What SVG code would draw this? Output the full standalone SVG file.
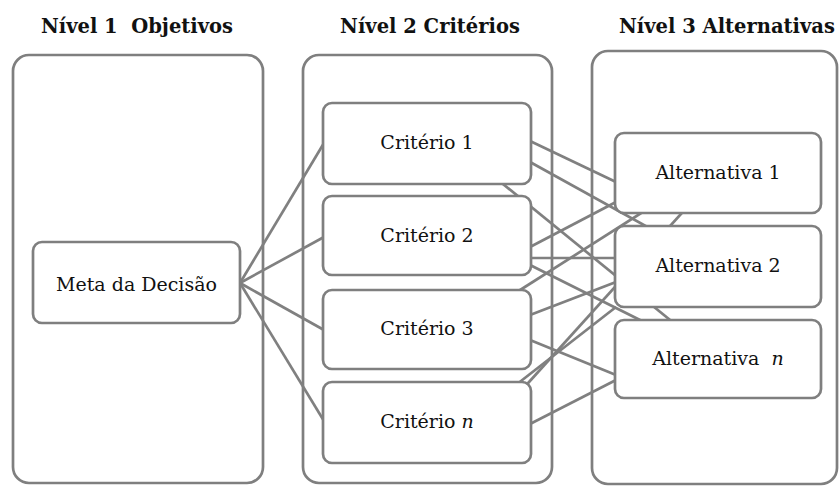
<svg xmlns="http://www.w3.org/2000/svg" width="840" height="486" viewBox="0 0 840 486">
  <style>
    .panel { fill: #ffffff; stroke: #7f7f7f; stroke-width: 2.7; }
    .box { fill: #ffffff; stroke: #7f7f7f; stroke-width: 2.7; }
    .link { fill: none; stroke: #808080; stroke-width: 2.7; stroke-linecap: butt; }
    .title { font-family: "DejaVu Serif", "Liberation Serif", serif; font-weight: bold; font-size: 19.5px; fill: #111111; text-anchor: middle; white-space: pre; }
    .label { font-family: "DejaVu Serif", "Liberation Serif", serif; font-size: 19px; fill: #111111; text-anchor: middle; white-space: pre; }
  </style>

  <rect width="840" height="486" fill="#ffffff"/>

  <!-- level headings -->
  <g id="headings">
    <text class="title" x="137" y="33">Nível 1  Objetivos</text>
    <text class="title" x="430" y="33">Nível 2 Critérios</text>
    <text class="title" x="727" y="33">Nível 3 Alternativas</text>
  </g>

  <!-- level columns -->
  <g id="columns">
    <rect id="level1" class="panel" x="13" y="55" width="250" height="428" rx="16"/>
    <rect id="level2" class="panel" x="303" y="55" width="249" height="428" rx="16"/>
    <rect id="level3" class="panel" x="592" y="51" width="245" height="433" rx="16"/>
  </g>

  <!-- connectors -->
  <g id="connectors">
    <line class="link" x1="240" y1="283" x2="324" y2="143"/>
    <line class="link" x1="240" y1="283" x2="324" y2="237"/>
    <line class="link" x1="240" y1="283" x2="324" y2="330"/>
    <line class="link" x1="240" y1="283" x2="324" y2="421"/>

    <line class="link" x1="530" y1="141" x2="616" y2="182"/>
    <line class="link" x1="530" y1="162" x2="718" y2="266"/>
    <line class="link" x1="460" y1="149" x2="718" y2="359"/>

    <line class="link" x1="530" y1="247" x2="616" y2="202"/>
    <line class="link" x1="530" y1="258" x2="616" y2="258"/>
    <line class="link" x1="530" y1="265" x2="718" y2="359"/>

    <line class="link" x1="517" y1="292" x2="690" y2="182"/>
    <line class="link" x1="530" y1="315" x2="616" y2="282"/>
    <line class="link" x1="530" y1="340" x2="616" y2="375"/>

    <line class="link" x1="512" y1="388" x2="616" y2="307"/>
    <line class="link" x1="520" y1="392" x2="718" y2="173"/>
    <line class="link" x1="530" y1="424" x2="616" y2="380"/>
  </g>

  <!-- level 1 -->
  <g id="goal">
    <rect class="box" x="33" y="242" width="207" height="81" rx="9"/>
    <text class="label" x="136.5" y="291">Meta da Decisão</text>
  </g>

  <!-- level 2 -->
  <g id="criterion-1">
    <rect class="box" x="323" y="103" width="208" height="81" rx="9"/>
    <text class="label" x="427" y="149">Critério 1</text>
  </g>
  <g id="criterion-2">
    <rect class="box" x="323" y="196" width="208" height="79" rx="9"/>
    <text class="label" x="427" y="242">Critério 2</text>
  </g>
  <g id="criterion-3">
    <rect class="box" x="323" y="290" width="208" height="79" rx="9"/>
    <text class="label" x="427" y="335">Critério 3</text>
  </g>
  <g id="criterion-n">
    <rect class="box" x="323" y="382" width="208" height="81" rx="9"/>
    <text class="label" x="427" y="428">Critério <tspan font-style="italic">n</tspan></text>
  </g>

  <!-- level 3 -->
  <g id="alternative-1">
    <rect class="box" x="615" y="133" width="206" height="80" rx="9"/>
    <text class="label" x="718" y="179">Alternativa 1</text>
  </g>
  <g id="alternative-2">
    <rect class="box" x="615" y="226" width="206" height="81" rx="9"/>
    <text class="label" x="718" y="272">Alternativa 2</text>
  </g>
  <g id="alternative-n">
    <rect class="box" x="615" y="320" width="206" height="78" rx="9"/>
    <text class="label" x="718" y="365">Alternativa  <tspan font-style="italic">n</tspan></text>
  </g>
</svg>
